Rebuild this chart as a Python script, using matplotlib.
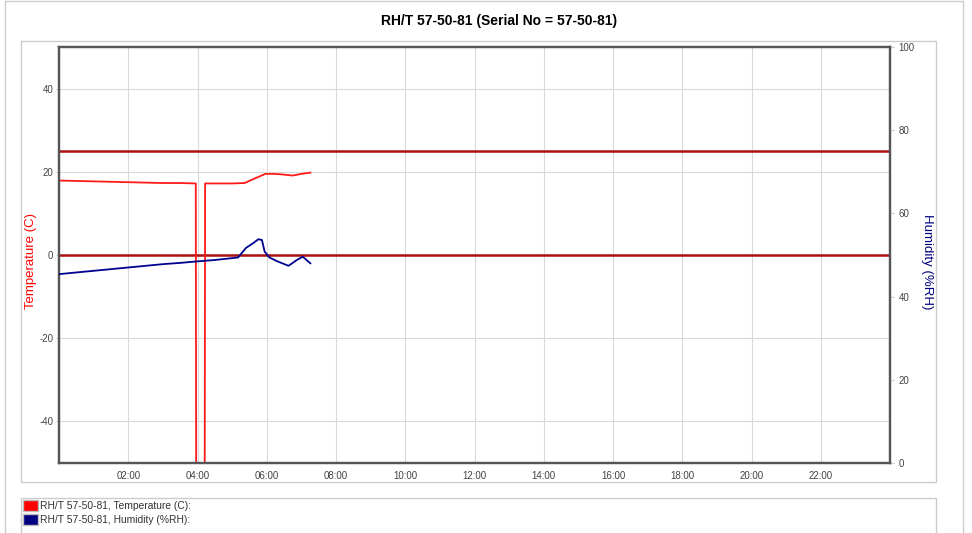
import matplotlib
matplotlib.use("Agg")
import matplotlib.pyplot as plt
from matplotlib.patches import Rectangle

plt.rcParams['font.family'] = ['Liberation Sans', 'DejaVu Sans']
plt.rcParams['axes.unicode_minus'] = False

# readings (hours since midnight)
temp_hours = [0.0, 0.5, 1.0, 1.5, 2.0, 2.5, 3.0, 3.5, 3.95, 3.97, 4.20, 4.22,
              4.5, 5.0, 5.36, 5.6, 5.96, 6.2, 6.4, 6.75, 7.0, 7.26]
temp_vals = [17.9, 17.8, 17.7, 17.6, 17.5, 17.4, 17.3, 17.3, 17.2, -100, -100, 17.2,
             17.2, 17.2, 17.3, 18.2, 19.5, 19.5, 19.4, 19.1, 19.5, 19.8]

hum_hours = [0.0, 0.5, 1.0, 1.5, 2.0, 2.5, 3.0, 3.5, 3.9, 4.5, 5.17, 5.4, 5.6,
             5.76, 5.86, 5.94, 6.08, 6.3, 6.63, 6.85, 7.04, 7.26]
hum_vals = [45.4, 45.8, 46.2, 46.6, 47.0, 47.4, 47.8, 48.1, 48.4, 48.8, 49.4, 51.7, 52.8,
            53.8, 53.6, 50.8, 49.4, 48.5, 47.4, 48.7, 49.6, 48.0]

limits = [25, 0]
xtick_hours = list(range(2, 24, 2))
xtick_labels = ["%02d:00" % h for h in xtick_hours]
temp_ticks = [-40, -20, 0, 20, 40]
hum_ticks = [0, 20, 40, 60, 80, 100]

title = "RH/T 57-50-81 (Serial No = 57-50-81)"
legend_labels = ["RH/T 57-50-81, Temperature (C):", "RH/T 57-50-81, Humidity (%RH):"]

W, H = 972, 533
fig = plt.figure(figsize=(W / 100, H / 100), dpi=100)


def px(x, y):
    return x / W, 1 - y / H


# frames
for x0, y0, x1, y1 in [(5, 1, 963, 545), (21, 41, 936, 482), (21, 498, 936, 545)]:
    fx, fy = px(x0, y1)
    fig.patches.append(Rectangle((fx, fy), (x1 - x0) / W, (y1 - y0) / H, transform=fig.transFigure,
                                 fill=False, edgecolor="#cccccc", linewidth=1.0))

l, b = px(59, 463)
ax = fig.add_axes([l, b, (890 - 59) / W, (463 - 47) / H])
ax2 = ax.twinx()

ax.set_xlim(0, 24)
ax.set_ylim(-50, 50)
ax2.set_ylim(0, 100)

ax.set_xticks(xtick_hours)
ax.set_xticklabels(xtick_labels)
ax.set_yticks(temp_ticks)
ax2.set_yticks(hum_ticks)
ax.grid(True, color="#d9d9d9", linewidth=0.8)
ax.set_axisbelow(True)

for y in limits:
    ax.axhline(y, color="#aa1111", linewidth=1.8, zorder=2)

ax.plot(temp_hours, temp_vals, color="#ff1a1a", linewidth=1.3, zorder=3)
ax2.plot(hum_hours, hum_vals, color="#000090", linewidth=1.3, zorder=3)

for a in (ax, ax2):
    for s in a.spines.values():
        s.set_color("#555555")
        s.set_linewidth(1.6)
    a.tick_params(labelsize=7, colors="#444444", length=2, width=0.8, pad=2)
ax.tick_params(axis="x", length=0, pad=6)
ax2.tick_params(axis="y", length=3, pad=3)
ax.tick_params(axis="y", color="#cccccc")
ax2.tick_params(axis="y", color="#cccccc")

ax.set_ylabel("Temperature (C)", color="#ff0000", fontsize=9.5, va="center")
ax.yaxis.set_label_coords(-0.034, 0.485)
ax2.set_ylabel("Humidity (%RH)", color="#000080", fontsize=9.5, rotation=-90, va="center")
ax2.yaxis.set_label_coords(1.0445, 0.485)

tx, ty = px(499, 21)
fig.text(tx, ty, title, ha="center", va="center", fontsize=10, fontweight="bold", color="#000000")

# legend
for i, (lab, col) in enumerate(zip(legend_labels, ["#ff0000", "#000080"])):
    y_top = 500 + i * 14
    fx, fy = px(23, y_top + 11)
    fig.patches.append(Rectangle((fx, fy), 15 / W, 11 / H, transform=fig.transFigure,
                                 facecolor=col, edgecolor="#bbbbbb", linewidth=1.0))
    lx, ly = px(40, y_top + 6)
    fig.text(lx, ly, lab, ha="left", va="center", fontsize=7.4, color="#333333")

fig.savefig("out.png", dpi=100)
